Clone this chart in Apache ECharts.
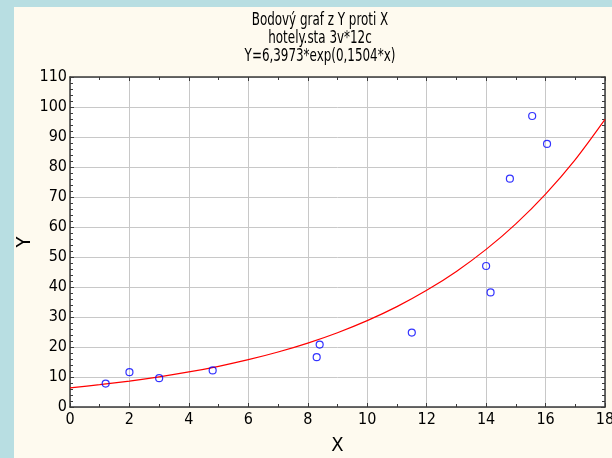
<!DOCTYPE html>
<html>
<head>
<meta charset="utf-8">
<script src="https://cdn.jsdelivr.net/npm/echarts@6/dist/echarts.min.js"></script>
<style>
  html, body { margin: 0; padding: 0; background: #b8dee2; }
  #wrap { position: relative; width: 612px; height: 458px; overflow: hidden; }
  #panel { position: absolute; left: 14px; top: 7px; right: 0; bottom: 0; background: #fefaef; }
  #chart { position: absolute; left: 0; top: 0; width: 612px; height: 458px; }
</style>
</head>
<body>
<div id="wrap">
  <div id="panel"></div>
  <div id="chart"></div>
</div>
<script>
// Observations (hotely.sta)
const obsX = [1.2, 2.0, 3.0, 4.8, 8.3, 8.4, 11.5, 14.0, 14.15, 14.8, 15.55, 16.05];
const obsY = [7.8, 11.6, 9.6, 12.2, 16.6, 20.8, 24.8, 47.0, 38.2, 76.1, 97.0, 87.7];

// Fitted curve Y = 6.3973*exp(0.1504*x), sampled at whole x
const fitX = [0, 1, 2, 3, 4, 5, 6, 7, 8, 9, 10, 11, 12, 13, 14, 15, 16, 17, 18];
const fitY = [6.40, 7.44, 8.64, 10.05, 11.68, 13.57, 15.77, 18.33, 21.31, 24.77,
              28.79, 33.46, 38.89, 45.20, 52.54, 61.06, 70.98, 82.49, 95.88];

const titleLines = ['Bodový graf z Y proti X', 'hotely.sta 3v*12c', 'Y=6,3973*exp(0,1504*x)'];

const FONT = '"Liberation Sans Narrow", "DejaVu Sans Condensed", sans-serif';
const frame = { show: true, onZero: false, lineStyle: { color: '#3a3a3a', width: 1.5 } };

const chart = echarts.init(document.getElementById('chart'), null, { renderer: 'canvas' });

const baseX = {
  type: 'value', min: 0, max: 18, interval: 2,
  axisLine: frame,
  splitLine: { show: false },
  minorTick: { show: true, splitNumber: 2, length: 3, lineStyle: { color: '#3a3a3a' } },
  axisTick: { show: true, inside: true, length: 4, lineStyle: { color: '#3a3a3a' } }
};
const baseY = {
  type: 'value', min: 0, max: 110, interval: 10,
  axisLine: frame,
  splitLine: { show: false },
  minorTick: { show: true, splitNumber: 5, length: 3, lineStyle: { color: '#3a3a3a' } },
  axisTick: { show: true, inside: true, length: 4, lineStyle: { color: '#3a3a3a' } }
};

// Narrow, tall heading: three centred lines squeezed horizontally
const titleGraphic = {
  type: 'group',
  x: 320, y: 21,
  scaleX: 0.78,
  children: titleLines.map((t, i) => ({
    type: 'text',
    y: i * 18,
    style: {
      text: t, x: 0, y: 0,
      fontFamily: FONT, fontSize: 17, fill: '#000',
      align: 'center', verticalAlign: 'middle'
    }
  }))
};

chart.setOption({
  animation: false,
  backgroundColor: 'transparent',
  graphic: [titleGraphic],
  grid: {
    left: 70, right: 7, top: 77, bottom: 51,
    outerBoundsMode: 'none', containLabel: false,
    show: true, backgroundColor: '#ffffff', borderWidth: 0
  },
  xAxis: [
    Object.assign({}, baseX, {
      position: 'bottom',
      name: 'X', nameLocation: 'middle', nameGap: 29, nameMoveOverlap: false,
      nameTextStyle: { fontFamily: FONT, fontSize: 20, color: '#000' },
      splitLine: { show: true, lineStyle: { color: '#c8c8c8', width: 1 } },
      axisLabel: { fontFamily: FONT, fontSize: 16, color: '#000', margin: 5 }
    }),
    Object.assign({}, baseX, { position: 'top', axisLabel: { show: false } })
  ],
  yAxis: [
    Object.assign({}, baseY, {
      position: 'left',
      name: 'Y', nameLocation: 'middle', nameGap: 35, nameRotate: 90, nameMoveOverlap: false,
      nameTextStyle: { fontFamily: FONT, fontSize: 20, color: '#000' },
      splitLine: { show: true, lineStyle: { color: '#c8c8c8', width: 1 } },
      axisLabel: { fontFamily: FONT, fontSize: 16, color: '#000', margin: 3 }
    }),
    Object.assign({}, baseY, { position: 'right', axisLabel: { show: false } })
  ],
  series: [
    {
      type: 'line',
      data: fitX.map((x, i) => [x, fitY[i]]),
      smooth: 0.3,
      showSymbol: false,
      lineStyle: { color: '#ff0000', width: 1.2 },
      z: 2
    },
    {
      type: 'scatter',
      data: obsX.map((x, i) => [x, obsY[i]]),
      symbol: 'circle',
      symbolSize: 7,
      itemStyle: { color: 'rgba(0,0,0,0)', borderColor: '#0000ff', borderWidth: 1.2 },
      z: 3
    }
  ]
});
</script>
</body>
</html>
